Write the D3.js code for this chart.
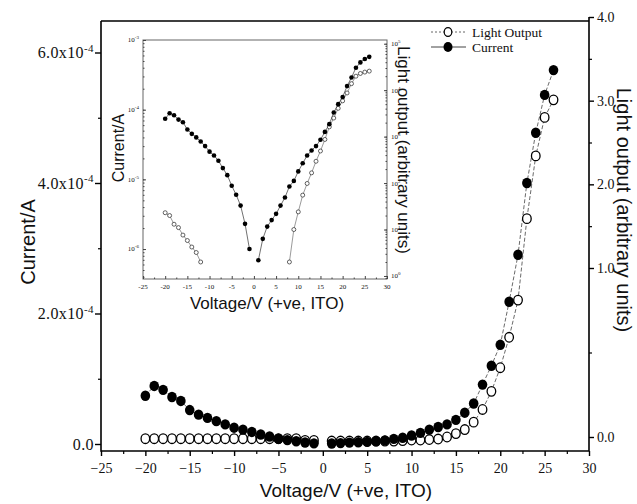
<!DOCTYPE html>
<html>
<head>
<meta charset="utf-8">
<script src="https://cdn.jsdelivr.net/npm/d3@7"></script>
<style>
  body { margin: 0; background: #fff; }
  text { fill: #111; }
</style>
</head>
<body>
<svg width="637" height="504"></svg>
<script>
// ---- data ----
const voltsNeg = [-20,-19,-18,-17,-16,-15,-14,-13,-12,-11,-10,-9,-8,-7,-6,-5,-4,-3,-2,-1]
const voltsPos = [1,2,3,4,5,6,7,8,9,10,11,12,13,14,15,16,17,18,19,20,21,22,23,24,25,26]

// current in A (same points on the linear main plot and the log inset)
const currentNeg = [7.4e-5,8.9e-5,8.3e-5,7.2e-5,6.6e-5,5.2e-5,4.5e-5,4.0e-5,3.5e-5,3.0e-5,
                    2.5e-5,2.2e-5,1.85e-5,1.45e-5,1.15e-5,8.1e-6,6.0e-6,4.2e-6,2.3e-6,1.0e-6]
const currentPos = [6.9e-7,1.4e-6,2.1e-6,2.6e-6,3.2e-6,4.2e-6,5.5e-6,7.9e-6,9.5e-6,1.3e-5,
                    1.7e-5,2.2e-5,2.6e-5,3.0e-5,3.7e-5,4.8e-5,6.2e-5,9.1e-5,1.2e-4,1.52e-4,
                    2.18e-4,2.9e-4,4.0e-4,4.77e-4,5.35e-4,5.73e-4]

// light output, main plot (right axis units)
const lightNeg = [-0.01,-0.01,-0.01,-0.01,-0.01,-0.01,-0.01,-0.01,-0.01,-0.01,
                  -0.01,-0.01,-0.01,-0.01,-0.01,-0.01,-0.01,-0.01,-0.02,-0.02]
const lightPos = [-0.024,-0.024,-0.024,-0.024,-0.024,-0.024,-0.024,-0.024,-0.021,-0.018,-0.018,-0.015,-0.012,0.0,
                  0.02,0.044,0.088,0.163,0.27,0.41,0.59,0.81,1.59,2.34,2.80,3.01]

// light output, inset (arbitrary units, log axis)
const insetLightVoltsNeg = [-20,-19,-18,-17,-16,-15,-14,-13,-12]
const insetLightNeg = [23,20,13,11,7.6,5.8,4.2,3.2,2.0]
const insetLightVoltsPos = [8,9,10,11,12,13,14,15,16,17,18,19,20,21,22,23,24,25,26]
const insetLightPos = [2.0,10,24,55,98,166,295,490,870,1620,2510,4070,5890,8710,13800,20000,22900,24500,25700]

// tick labels
const xTicks = [-25,-20,-15,-10,-5,0,5,10,15,20,25,30]
const leftTicks = [0,2e-4,4e-4,6e-4]
const leftTickText = [["0.0",""],["2.0x10","-4"],["4.0x10","-4"],["6.0x10","-4"]]
const rightTicks = [0,1,2,3,4]
const rightTickText = ["0.0","1.0","2.0","3.0","4.0"]
const insetLeftTicks = [1e-6,1e-5,1e-4,1e-3]
const insetLeftText = ["-6","-5","-4","-3"]
const insetRightTicks = [1,10,100,1000,1e4,1e5]
const insetRightText = ["0","1","2","3","4","5"]

const svg = d3.select("svg")
svg.append("rect").attr("width", 637).attr("height", 504).attr("fill", "#fff")

const SERIF = "'Liberation Serif', 'Times New Roman', serif"
const SANS = "'Liberation Sans', Arial, sans-serif"

// ---- main plot ----
const box = {left: 101, right: 589, top: 21, bottom: 451}
const x = d3.scaleLinear().domain([-25, 30]).range([box.left, box.right])
const yL = d3.scaleLinear().domain([0, 6e-4]).range([444, 52.5])
// right axis as printed: 0.0 sits lower than the even 1.0-4.0 spacing
const yR = d3.scaleLinear().domain([0, 1, 4]).range([437, 268, 17])

const g = svg.append("g")

// frame
g.append("path")
  .attr("d", `M${box.left},${box.top}V${box.bottom}H${box.right}V17M${box.left},${box.top}H${box.right}`)
  .attr("fill", "none").attr("stroke", "#000").attr("stroke-width", 1.6)

// bottom axis
const xMinor = xTicks.slice(0, -1).map(d => d + 2.5)
g.append("g").attr("transform", `translate(0,${box.bottom})`)
  .call(d3.axisBottom(x).tickValues(xTicks).tickSize(5).tickSizeOuter(0))
  .call(a => a.select(".domain").remove())
  .call(a => a.selectAll("line").attr("stroke-width", 1.4))
  .call(a => a.selectAll("text").attr("font-family", SERIF).attr("font-size", 14).attr("dy", "1.0em"))
g.append("g").attr("transform", `translate(0,${box.bottom})`)
  .call(d3.axisBottom(x).tickValues(xMinor).tickSize(3).tickFormat(""))
  .call(a => a.select(".domain").remove())
  .call(a => a.selectAll("line").attr("stroke-width", 1.2))

// left axis
g.append("g").attr("transform", `translate(${box.left},0)`)
  .call(d3.axisLeft(yL).tickValues(leftTicks).tickSize(6).tickFormat(""))
  .call(a => a.select(".domain").remove())
  .call(a => a.selectAll("line").attr("stroke-width", 1.4))
g.append("g").attr("transform", `translate(${box.left},0)`)
  .call(d3.axisLeft(yL).tickValues([1e-4, 3e-4, 5e-4]).tickSize(3).tickFormat(""))
  .call(a => a.select(".domain").remove())
  .call(a => a.selectAll("line").attr("stroke-width", 1.2))
const leftLab = g.append("g").attr("font-family", SERIF).attr("font-size", 16)
    .attr("letter-spacing", 0.4).attr("text-anchor", "end")
  .selectAll("text").data(leftTicks).enter().append("text")
    .attr("x", box.left - 7)
    .attr("y", d => yL(d))
    .attr("dy", "0.35em")
leftLab.append("tspan").text((d, i) => leftTickText[i][0])
leftLab.append("tspan").attr("font-size", 11).attr("dy", "-0.6em").text((d, i) => leftTickText[i][1])

// right axis
g.append("g").attr("transform", `translate(${box.right},0)`)
  .call(d3.axisRight(yR).tickValues(rightTicks).tickSize(5).tickFormat((d, i) => rightTickText[i]))
  .call(a => a.select(".domain").remove())
  .call(a => a.selectAll("line").attr("stroke-width", 1.4))
  .call(a => a.selectAll("text").attr("font-family", SERIF).attr("font-size", 14).attr("fill", "#111"))
g.append("g").attr("transform", `translate(${box.right},0)`)
  .call(d3.axisRight(yR).tickValues([0.5, 1.5, 2.5, 3.5]).tickSize(3).tickFormat(""))
  .call(a => a.select(".domain").remove())
  .call(a => a.selectAll("line").attr("stroke-width", 1.2))

// axis titles
g.append("text").attr("font-family", SANS).attr("font-size", 20).attr("text-anchor", "middle")
  .attr("transform", "translate(35,242) rotate(-90)").text("Current/A")
g.append("text").attr("font-family", SANS).attr("font-size", 19).attr("text-anchor", "middle")
  .attr("x", 346).attr("y", 497).text("Voltage/V (+ve, ITO)")
g.append("text").attr("font-family", SANS).attr("font-size", 20).attr("text-anchor", "middle")
  .attr("transform", "translate(617,210) rotate(90)").text("Light output (arbitrary units)")

// series
const negCur = voltsNeg.map((v, i) => ({v, y: currentNeg[i]}))
const posCur = voltsPos.map((v, i) => ({v, y: currentPos[i]}))
const negLight = voltsNeg.map((v, i) => ({v, y: lightNeg[i]}))
const posLight = voltsPos.map((v, i) => ({v, y: lightPos[i]}))

const lineL = d3.line().x(d => x(d.v)).y(d => yL(d.y))
const lineR = d3.line().x(d => x(d.v)).y(d => yR(d.y))
;[negLight, posLight].forEach(s => g.append("path").attr("d", lineR(s))
  .attr("fill", "none").attr("stroke", "#444").attr("stroke-width", 0.8).attr("stroke-dasharray", "4,2"))
;[negCur, posCur].forEach(s => g.append("path").attr("d", lineL(s))
  .attr("fill", "none").attr("stroke", "#444").attr("stroke-width", 0.8).attr("stroke-dasharray", "4,2"))

g.append("g").selectAll("ellipse").data(negLight.concat(posLight)).enter().append("ellipse")
  .attr("cx", d => x(d.v)).attr("cy", d => yR(d.y)).attr("rx", 4.3).attr("ry", 4.8)
  .attr("fill", "#fff").attr("stroke", "#000").attr("stroke-width", 1.3)
g.append("g").selectAll("ellipse").data(negCur.concat(posCur)).enter().append("ellipse")
  .attr("cx", d => x(d.v)).attr("cy", d => yL(d.y)).attr("rx", 4.8).attr("ry", 5.2)
  .attr("fill", "#000")

// legend
const leg = g.append("g").attr("font-family", SERIF).attr("font-size", 13.5)
leg.append("line").attr("x1", 431).attr("x2", 466).attr("y1", 32).attr("y2", 32)
  .attr("stroke", "#555").attr("stroke-width", 0.9).attr("stroke-dasharray", "2,2")
leg.append("ellipse").attr("cx", 448).attr("cy", 32).attr("rx", 3.8).attr("ry", 4.4)
  .attr("fill", "#fff").attr("stroke", "#000").attr("stroke-width", 1.2)
leg.append("text").attr("x", 472).attr("y", 36.5).text("Light Output")
leg.append("line").attr("x1", 431).attr("x2", 466).attr("y1", 47).attr("y2", 47)
  .attr("stroke", "#444").attr("stroke-width", 1)
leg.append("ellipse").attr("cx", 448).attr("cy", 47).attr("rx", 4.5).attr("ry", 4.9)
  .attr("fill", "#000")
leg.append("text").attr("x", 472).attr("y", 51.5).text("Current")

// ---- inset ----
const ib = {left: 143, right: 387, top: 40, bottom: 279}
const xi = d3.scaleLinear().domain([-25, 30]).range([ib.left, ib.right])
const yi = d3.scaleLog().domain([Math.pow(10, -6.43), 1e-3]).range([ib.bottom, ib.top])
const yiR = d3.scaleLog().domain([Math.pow(10, -0.065), Math.pow(10, 5.08)]).range([ib.bottom, ib.top])

const ig = svg.append("g")
ig.append("rect").attr("x", ib.left).attr("y", ib.top)
  .attr("width", ib.right - ib.left).attr("height", ib.bottom - ib.top)
  .attr("fill", "#fff").attr("stroke", "#666").attr("stroke-width", 1)

function logMinors(scale) {
  const out = []
  scale.ticks().forEach(t => { if (t >= scale.domain()[0] && t <= scale.domain()[1]) out.push(t) })
  return out
}
ig.append("g").attr("transform", `translate(0,${ib.bottom})`)
  .call(d3.axisTop(xi).tickValues(xTicks).tickSize(3).tickFormat(""))
  .call(a => a.select(".domain").remove())
  .call(a => a.selectAll("line").attr("stroke", "#444"))
ig.append("g").attr("transform", `translate(0,${ib.bottom})`)
  .call(d3.axisTop(xi).tickValues(xMinor).tickSize(1.5).tickFormat(""))
  .call(a => a.select(".domain").remove())
  .call(a => a.selectAll("line").attr("stroke", "#444"))
ig.append("g").attr("font-family", SERIF).attr("font-size", 7).attr("text-anchor", "middle")
  .selectAll("text").data(xTicks).enter().append("text")
    .attr("x", d => xi(d)).attr("y", ib.bottom + 10).attr("fill", "#333").text(d => d)

ig.append("g").attr("transform", `translate(${ib.left},0)`)
  .call(d3.axisRight(yi).tickValues(logMinors(yi)).tickSize(1.5).tickFormat(""))
  .call(a => a.select(".domain").remove())
  .call(a => a.selectAll("line").attr("stroke", "#444"))
ig.append("g").attr("transform", `translate(${ib.left},0)`)
  .call(d3.axisRight(yi).tickValues(insetLeftTicks).tickSize(3).tickFormat(""))
  .call(a => a.select(".domain").remove())
  .call(a => a.selectAll("line").attr("stroke", "#444"))
const il = ig.append("g").attr("font-family", SERIF).attr("font-size", 7).attr("text-anchor", "end")
  .selectAll("text").data(insetLeftTicks).enter().append("text")
    .attr("x", ib.left - 4).attr("y", d => yi(d)).attr("dy", "0.35em").attr("fill", "#333")
il.append("tspan").text("10")
il.append("tspan").attr("font-size", 5).attr("dy", "-0.6em").text((d, i) => insetLeftText[i])

ig.append("g").attr("transform", `translate(${ib.right},0)`)
  .call(d3.axisLeft(yiR).tickValues(logMinors(yiR)).tickSize(1.5).tickFormat(""))
  .call(a => a.select(".domain").remove())
  .call(a => a.selectAll("line").attr("stroke", "#444"))
ig.append("g").attr("transform", `translate(${ib.right},0)`)
  .call(d3.axisLeft(yiR).tickValues(insetRightTicks).tickSize(3).tickFormat(""))
  .call(a => a.select(".domain").remove())
  .call(a => a.selectAll("line").attr("stroke", "#444"))
const ir = ig.append("g").attr("font-family", SERIF).attr("font-size", 7).attr("text-anchor", "start")
  .selectAll("text").data(insetRightTicks).enter().append("text")
    .attr("x", ib.right + 4).attr("y", d => yiR(d)).attr("dy", "0.35em").attr("fill", "#333")
ir.append("tspan").text("10")
ir.append("tspan").attr("font-size", 5).attr("dy", "-0.6em").text((d, i) => insetRightText[i])

ig.append("text").attr("font-family", SANS).attr("font-size", 16).attr("text-anchor", "middle")
  .attr("transform", "translate(124,148) rotate(-90)").text("Current/A")
ig.append("text").attr("font-family", SANS).attr("font-size", 17).attr("text-anchor", "middle")
  .attr("x", 267).attr("y", 309).text("Voltage/V (+ve, ITO)")
ig.append("text").attr("font-family", SANS).attr("font-size", 17).attr("text-anchor", "middle")
  .attr("transform", "translate(398,150) rotate(90)").text("Light output (arbitrary units)")

const iLineC = d3.line().x(d => xi(d.v)).y(d => yi(d.y))
const iLineL = d3.line().x(d => xi(d.v)).y(d => yiR(d.y))
const iNegLight = insetLightVoltsNeg.map((v, i) => ({v, y: insetLightNeg[i]}))
const iPosLight = insetLightVoltsPos.map((v, i) => ({v, y: insetLightPos[i]}))
;[negCur, posCur].forEach(s => ig.append("path").attr("d", iLineC(s))
  .attr("fill", "none").attr("stroke", "#333").attr("stroke-width", 0.7))
;[iNegLight, iPosLight].forEach(s => ig.append("path").attr("d", iLineL(s))
  .attr("fill", "none").attr("stroke", "#555").attr("stroke-width", 0.6))
ig.append("g").selectAll("circle").data(iNegLight.concat(iPosLight)).enter().append("circle")
  .attr("cx", d => xi(d.v)).attr("cy", d => yiR(d.y)).attr("r", 2)
  .attr("fill", "#fff").attr("stroke", "#222").attr("stroke-width", 0.7)
ig.append("g").selectAll("circle").data(negCur.concat(posCur)).enter().append("circle")
  .attr("cx", d => xi(d.v)).attr("cy", d => yi(d.y)).attr("r", 2.3)
  .attr("fill", "#000")
</script>
</body>
</html>
